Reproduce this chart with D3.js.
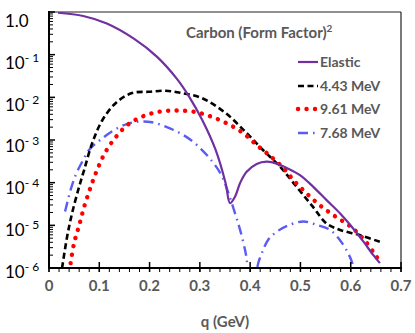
<!DOCTYPE html>
<html>
<head>
<meta charset="utf-8">
<script src="https://cdn.jsdelivr.net/npm/d3@7"></script>
<style>
  html, body { margin: 0; padding: 0; background: #fff; }
  svg { display: block; }
  text { font-family: Lato, "Open Sans", sans-serif; }
</style>
</head>
<body>
<svg id="chart" width="415" height="333"></svg>
<script>
// ---- data ----
const elasticQ = [0.018, 0.068, 0.115, 0.168, 0.215, 0.254, 0.278, 0.305, 0.331, 0.351, 0.360, 0.370, 0.380, 0.393, 0.413, 0.433, 0.453, 0.473, 0.499, 0.525, 0.552, 0.579, 0.602, 0.625, 0.645, 0.658];
const elasticV = [0.96, 0.805, 0.537, 0.24, 0.089, 0.0275, 0.0107, 2.9e-3, 6.0e-4, 1.0e-4, 3.3e-5, 4.7e-5, 9.8e-5, 1.8e-4, 2.75e-4, 3.1e-4, 2.8e-4, 2.2e-4, 1.5e-4, 8.1e-5, 3.9e-5, 1.9e-5, 9.3e-6, 4.2e-6, 2.0e-6, 1.3e-6];

const e443Q = [0.026, 0.036, 0.046, 0.060, 0.070, 0.086, 0.106, 0.133, 0.165, 0.199, 0.232, 0.264, 0.304, 0.351, 0.393, 0.425, 0.459, 0.492, 0.525, 0.552, 0.579, 0.618, 0.658];
const e443V = [1.0e-6, 5.4e-6, 1.95e-5, 8.1e-5, 2.0e-4, 8.5e-4, 2.9e-3, 7.4e-3, 0.0126, 0.0135, 0.0143, 0.0126, 9.6e-3, 4.3e-3, 1.45e-3, 5.9e-4, 2.4e-4, 8.1e-5, 2.7e-5, 1.1e-5, 7.8e-6, 5.9e-6, 4.1e-6];

const e961Q = [0.043, 0.050, 0.060, 0.070, 0.082, 0.095, 0.111, 0.131, 0.157, 0.187, 0.219, 0.253, 0.288, 0.322, 0.354, 0.386, 0.413, 0.439, 0.466, 0.489, 0.516, 0.542, 0.570, 0.600, 0.626, 0.648, 0.658];
const e961V = [1.3e-6, 3.9e-6, 1.0e-5, 2.75e-5, 7.4e-5, 1.9e-4, 4.9e-4, 1.1e-3, 2.3e-3, 3.6e-3, 4.6e-3, 4.9e-3, 4.6e-3, 3.55e-3, 2.45e-3, 1.45e-3, 7.6e-4, 4.3e-4, 2.2e-4, 1.05e-4, 5.1e-5, 2.75e-5, 1.6e-5, 9.3e-6, 4.7e-6, 2.1e-6, 1.4e-6];

const e768Q = [0.032, 0.043, 0.053, 0.066, 0.080, 0.104, 0.129, 0.156, 0.179, 0.205, 0.232, 0.258, 0.282, 0.304, 0.325, 0.341, 0.351, 0.370, 0.380, 0.390, 0.394, 0.405, 0.414, 0.423, 0.436, 0.453, 0.476, 0.506, 0.535, 0.559, 0.578, 0.595, 0.604, 0.612];
const e768V = [2.1e-5, 6.8e-5, 1.5e-4, 3.1e-4, 5.9e-4, 1.05e-3, 1.7e-3, 2.4e-3, 2.7e-3, 2.6e-3, 2.05e-3, 1.5e-3, 1.0e-3, 5.9e-4, 3.1e-4, 1.65e-4, 8.9e-5, 1.9e-5, 7.8e-6, 2.6e-6, 1.3e-6, 1e-8, 1.0e-6, 2.2e-6, 4.6e-6, 7.1e-6, 1.0e-5, 1.23e-5, 1.0e-5, 7.8e-6, 4.6e-6, 2.2e-6, 1.2e-6, 2e-7];

const seriesNames = ["Elastic", "4.43 MeV", "9.61 MeV", "7.68 MeV"];
const xTickLabels = ["0", "0.1", "0.2", "0.3", "0.4", "0.5", "0.6", "0.7"];
const yTickExps = [0, -1, -2, -3, -4, -5, -6];

// ---- layout ----
const svg = d3.select("#chart");
const L = 49, R = 401, T = 12, B = 268;
const x = d3.scaleLinear().domain([0, 0.7]).range([L, R]);
const y = d3.scaleLog().domain([1e-6, 1]).range([B, T]);

svg.append("rect").attr("width", 415).attr("height", 333).attr("fill", "#fff");

// frame top/right
svg.append("line").attr("x1", L).attr("x2", R).attr("y1", T).attr("y2", T).attr("stroke", "#222").attr("stroke-width", 1.2);
svg.append("line").attr("x1", R).attr("x2", R).attr("y1", T).attr("y2", B).attr("stroke", "#222").attr("stroke-width", 1.2);

// clip
svg.append("clipPath").attr("id", "clip").append("rect")
  .attr("x", L).attr("y", T).attr("width", R - L).attr("height", B - T);

const styles = [
  { color: "#7030A0", width: 2.2, dash: null, cap: "butt" },
  { color: "#000000", width: 2.6, dash: "6,3.5", cap: "butt" },
  { color: "#FF0000", width: 4.4, dash: "0.1,8.4", cap: "round" },
  { color: "#5B5BF5", width: 2.4, dash: "10,5,1.6,5", cap: "butt" }
];
const datasets = [
  elasticQ.map((q, i) => [q, elasticV[i]]),
  e443Q.map((q, i) => [q, e443V[i]]),
  e961Q.map((q, i) => [q, e961V[i]]),
  e768Q.map((q, i) => [q, e768V[i]])
];

const line = d3.line().x(d => x(d[0])).y(d => y(d[1])).curve(d3.curveCatmullRom.alpha(0.5));
const g = svg.append("g").attr("clip-path", "url(#clip)");
const order = [3, 1, 2, 0];
order.forEach(i => {
  g.append("path").datum(datasets[i])
    .attr("d", line)
    .attr("fill", "none")
    .attr("stroke", styles[i].color)
    .attr("stroke-width", styles[i].width)
    .attr("stroke-dasharray", styles[i].dash)
    .attr("stroke-linecap", styles[i].cap);
});

// y axis
const yAxisG = svg.append("g");
yAxisG.append("line").attr("x1", L).attr("x2", L).attr("y1", T - 1).attr("y2", B + 1).attr("stroke", "#000").attr("stroke-width", 2);
for (let e = -6; e < 0; e++) {
  for (let m = 2; m <= 9; m++) {
    const v = m * Math.pow(10, e);
    yAxisG.append("line").attr("x1", L).attr("x2", L + 4).attr("y1", y(v)).attr("y2", y(v)).attr("stroke", "#000").attr("stroke-width", 1);
  }
}
yTickExps.forEach(e => {
  const yy = y(Math.pow(10, e));
  yAxisG.append("line").attr("x1", L).attr("x2", L + 6).attr("y1", yy).attr("y2", yy).attr("stroke", "#000").attr("stroke-width", 1.5);
  const t = yAxisG.append("text").attr("x", 5).attr("y", yy + 4 + (e + 6) * 0.8 + 6).attr("font-size", 17).attr("fill", "#000");
  if (e === 0) {
    t.text("1.0");
  } else {
    t.append("tspan").text("10");
    t.append("tspan").attr("dy", -7).attr("font-size", 12).text("- " + (-e));
  }
});

// x axis
const xAxisG = svg.append("g");
xAxisG.append("line").attr("x1", L - 1).attr("x2", R + 1).attr("y1", B).attr("y2", B).attr("stroke", "#000").attr("stroke-width", 2);
d3.range(0, 36).forEach(k => {
  const q = k * 0.02;
  if (q > 0.7001) return;
  const xx = x(q);
  xAxisG.append("line").attr("x1", xx).attr("x2", xx).attr("y1", B).attr("y2", B + 4).attr("stroke", "#000").attr("stroke-width", 1);
});
xTickLabels.forEach((lab, i) => {
  const xx = x(i * 0.1);
  xAxisG.append("line").attr("x1", xx).attr("x2", xx).attr("y1", B - 6).attr("y2", B + 4).attr("stroke", "#000").attr("stroke-width", 1.5);
  xAxisG.append("text").attr("x", xx).attr("y", 291).attr("text-anchor", "middle")
    .attr("font-size", 15).attr("font-weight", "bold").attr("fill", "#595959").text(lab);
});
svg.append("text").attr("x", 225).attr("y", 327).attr("text-anchor", "middle")
  .attr("font-size", 15).attr("font-weight", "bold").attr("fill", "#595959").text("q (GeV)");

// title
const title = svg.append("text").attr("x", 186).attr("y", 38).attr("font-size", 15).attr("font-weight", "bold").attr("fill", "#595959");
title.append("tspan").text("Carbon (Form Factor)");
title.append("tspan").attr("dy", -6).attr("font-size", 10).text("2");

// legend
const legY = [62, 86, 109, 133];
seriesNames.forEach((name, i) => {
  svg.append("line").attr("x1", 298).attr("x2", 318).attr("y1", legY[i]).attr("y2", legY[i])
    .attr("stroke", styles[i].color).attr("stroke-width", styles[i].width)
    .attr("stroke-dasharray", styles[i].dash).attr("stroke-linecap", styles[i].cap);
  svg.append("text").attr("x", 320).attr("y", legY[i] + 5).attr("font-size", 14).attr("font-weight", "bold")
    .attr("fill", "#595959").text(name);
});
</script>
</body>
</html>
